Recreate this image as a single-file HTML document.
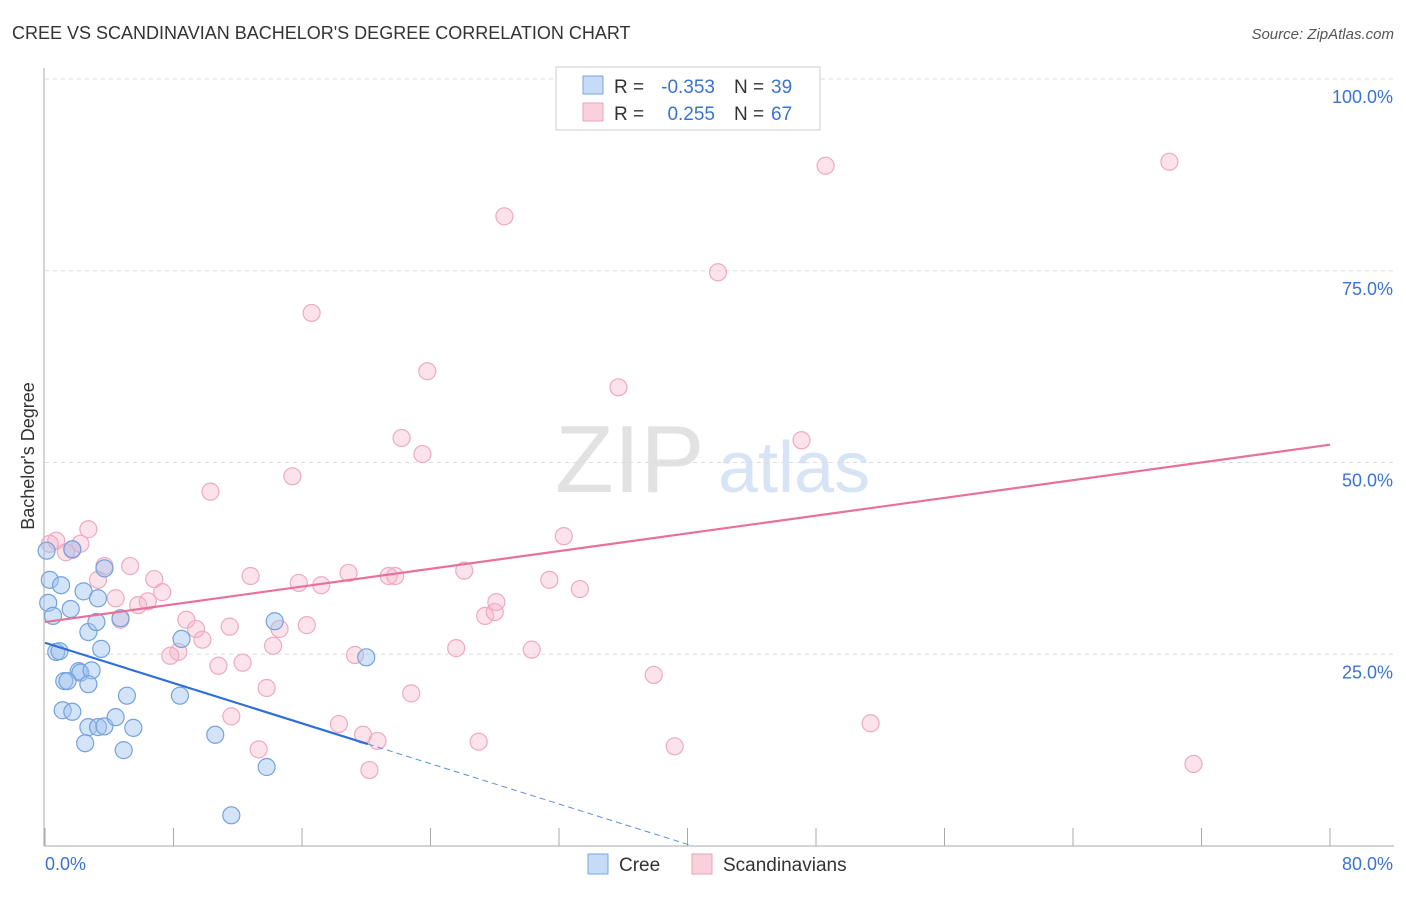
<!DOCTYPE html>
<html><head><meta charset="utf-8"><style>
body{margin:0;background:#fff;font-family:"Liberation Sans",sans-serif;}
svg text{font-family:"Liberation Sans",sans-serif;}
</style></head><body>
<svg id="chart" width="1406" height="892" xmlns="http://www.w3.org/2000/svg">
<text x="12" y="39" font-size="18" fill="#333">CREE VS SCANDINAVIAN BACHELOR'S DEGREE CORRELATION CHART</text>
<text x="1394" y="39" font-size="15" fill="#555" font-style="italic" text-anchor="end">Source: ZipAtlas.com</text>
<text x="555" y="492" font-size="96" fill="#e2e2e2" font-family="Liberation Serif,serif">ZIP</text>
<text x="718" y="492" font-size="72" fill="#d6e4f5">atlas</text>
<g id="grid"></g>
<g id="axes"></g>
<g id="marks"></g>
<text transform="translate(34,456) rotate(-90)" font-size="18" fill="#333" text-anchor="middle">Bachelor's Degree</text>
<g>
<rect x="556" y="67" width="264" height="63" fill="#fff" stroke="#ccc"/>
<rect x="583" y="76" width="20" height="18" fill="#c5dbf7" stroke="#7aa6de"/>
<rect x="583" y="103" width="20" height="18" fill="#fbd0dd" stroke="#eda2b9"/>
<text x="614" y="93" font-size="19" fill="#333">R =</text>
<text x="715" y="93" font-size="19" fill="#3a73d0" text-anchor="end">-0.353</text>
<text x="734" y="93" font-size="19" fill="#333">N =</text>
<text x="771" y="93" font-size="19" fill="#3a73d0">39</text>
<text x="614" y="120" font-size="19" fill="#333">R =</text>
<text x="715" y="120" font-size="19" fill="#3a73d0" text-anchor="end">0.255</text>
<text x="734" y="120" font-size="19" fill="#333">N =</text>
<text x="771" y="120" font-size="19" fill="#3a73d0">67</text>
</g>
<g>
<rect x="588" y="854" width="20" height="20" fill="#c5dbf7" stroke="#7aa6de"/>
<text x="619" y="871" font-size="19" fill="#333">Cree</text>
<rect x="692" y="854" width="20" height="20" fill="#fbd0dd" stroke="#eda2b9"/>
<text x="723" y="871" font-size="19" fill="#333">Scandinavians</text>
</g>
</svg>
<script>
const creeX=[0.1,0.3,0.2,0.5,0.7,0.9,1.0,1.6,1.7,2.4,2.7,3.2,3.3,3.5,3.7,4.7,2.1,2.2,2.9,1.2,1.4,2.7,1.1,1.7,5.1,8.4,8.5,14.3,20.0,2.7,3.3,3.7,4.4,5.5,2.5,4.9,10.6,13.8,11.6];
const creeY=[38.5,34.7,31.7,30.0,25.3,25.4,34.0,30.9,38.7,33.2,27.9,29.2,32.3,25.7,36.2,29.7,22.8,22.6,22.9,21.5,21.5,21.1,17.7,17.5,19.6,19.6,27.0,29.3,24.6,15.5,15.5,15.6,16.8,15.4,13.4,12.5,14.5,10.3,4.0];
const scanX=[0.3,0.7,1.3,1.7,2.2,2.7,3.3,3.7,4.4,5.3,5.8,6.4,6.8,7.3,8.8,9.4,9.8,8.3,7.8,10.8,12.3,11.5,12.8,11.6,13.3,13.8,14.2,14.6,15.8,16.3,17.2,15.4,16.6,10.3,18.3,18.9,19.3,19.8,20.2,20.7,21.4,21.8,22.8,22.2,23.5,23.8,25.6,26.1,27.0,27.4,28.0,28.1,28.6,30.3,31.4,32.3,33.3,35.7,37.9,39.2,41.9,47.1,48.6,51.4,70.0,71.5,4.7];
const scanY=[39.4,39.8,38.3,38.6,39.4,41.3,34.7,36.5,32.3,36.5,31.4,31.9,34.8,33.1,29.5,28.3,26.9,25.3,24.8,23.5,23.9,28.6,35.2,16.9,12.6,20.6,26.1,28.3,34.3,28.8,34.0,48.2,69.5,46.2,15.9,35.6,24.9,14.5,9.9,13.7,35.2,35.2,19.9,53.2,51.1,61.9,25.8,35.9,13.6,30.0,30.5,31.8,82.1,25.6,34.7,40.4,33.5,59.8,22.3,13.0,74.8,52.9,88.7,16.0,89.2,10.7,29.5];
const creeTrend=[26.5,-0.657];
const creeSolidEnd=20.1;
const scanTrend=[29.2,0.289];
const yTicks=[25,50,75,100];
const yTickLabels=["25.0%","50.0%","75.0%","100.0%"];
const xTicks=[0,8,16,24,32,40,48,56,64,72,80];
const NS="http://www.w3.org/2000/svg";
const sx=v=>45+v*1285/80;
const sy=v=>846-v*7.67;
function mk(tag,attrs,parent){const e=document.createElementNS(NS,tag);for(const k in attrs)e.setAttribute(k,attrs[k]);document.getElementById(parent).appendChild(e);return e;}
for(let i=0;i<yTicks.length;i++){
 const g=mk('line',{x1:45,x2:1394,y1:sy(yTicks[i]),y2:sy(yTicks[i]),stroke:'#ddd','stroke-dasharray':'4,4'},'grid');
 
 
 const t=mk('text',{x:1393,y:sy(yTicks[i])+24,'text-anchor':'end','font-size':18,fill:'#3a73d0'},'axes');
 t.textContent=yTickLabels[i];
 
 
}
const ax=mk('line',{x1:44,x2:44,y1:68,y2:846,stroke:'#aaa'},'axes');


const bx=mk('line',{x1:44,x2:1394,y1:846,y2:846,stroke:'#aaa'},'axes');


for(const v of xTicks){
 const l=mk('line',{x1:sx(v),x2:sx(v),y1:828,y2:846,stroke:'#aaa'},'axes');
 
 
}
const x0=mk('text',{x:45,y:870,'font-size':18,fill:'#3a73d0'},'axes');x0.textContent='0.0%';


const x1=mk('text',{x:1393,y:870,'font-size':18,fill:'#3a73d0','text-anchor':'end'},'axes');x1.textContent='80.0%';


for(let i=0;i<scanX.length;i++){
 const c=mk('circle',{cx:sx(scanX[i]),cy:sy(scanY[i]),r:8.5,fill:'rgba(246,175,198,0.35)',stroke:'#eeaac0','stroke-width':1.2},'marks');
 
 
}
for(let i=0;i<creeX.length;i++){
 const c=mk('circle',{cx:sx(creeX[i]),cy:sy(creeY[i]),r:8.5,fill:'rgba(160,196,240,0.45)',stroke:'#74a2dc','stroke-width':1.2},'marks');
 
 
}
const ps=mk('line',{x1:sx(0),y1:sy(scanTrend[0]),x2:sx(80),y2:sy(scanTrend[0]+scanTrend[1]*80),stroke:'#e8709a','stroke-width':2.2},'marks');


const bs=mk('line',{x1:sx(0),y1:sy(creeTrend[0]),x2:sx(creeSolidEnd),y2:sy(creeTrend[0]+creeTrend[1]*creeSolidEnd),stroke:'#2f6fd6','stroke-width':2.2},'marks');


const xz=-creeTrend[0]/creeTrend[1];
const bd=mk('line',{x1:sx(creeSolidEnd),y1:sy(creeTrend[0]+creeTrend[1]*creeSolidEnd),x2:sx(xz),y2:sy(0),stroke:'#5b8fe0','stroke-width':1,'stroke-dasharray':'6,4'},'marks');


</script>
</body></html>
